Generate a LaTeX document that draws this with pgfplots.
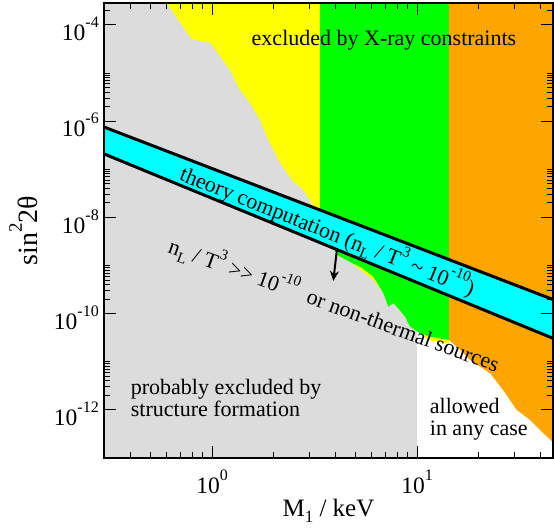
\documentclass[border=0pt]{standalone}
\usepackage{fontspec}
\setmainfont{Liberation Serif}
\usepackage{pgfplots}
\pgfplotsset{compat=1.18}
\usetikzlibrary{arrows.meta}
\definecolor{lgray}{RGB}{220,220,220}
\definecolor{xyellow}{RGB}{255,255,0}
\definecolor{xgreen}{RGB}{0,255,0}
\definecolor{xorange}{RGB}{255,165,0}
\definecolor{xcyan}{RGB}{0,255,255}
\newcommand{\sps}[1]{\raisebox{12.5bp}{\fontsize{15bp}{15bp}\selectfont #1}}
\newcommand{\tsps}[1]{\raisebox{13bp}{\fontsize{16bp}{16bp}\selectfont #1}}
\newcommand{\sbs}[1]{\raisebox{-5bp}{\fontsize{15bp}{15bp}\selectfont #1}}
\newcommand{\lsps}[1]{\raisebox{16bp}{\fontsize{19bp}{19bp}\selectfont #1}}
\newcommand{\lsbs}[1]{\raisebox{-6bp}{\fontsize{17bp}{17bp}\selectfont #1}}
\begin{document}
\fontsize{22bp}{24bp}\selectfont
\begin{tikzpicture}
\begin{axis}[
 name=ax, xmode=log, ymode=log, scale only axis, width=449bp, height=455bp,
 xmin=0.2972, xmax=46.06, ymin=1e-13, ymax=2.865e-4,
 axis on top,
 axis line style={line width=1.2bp},
 every tick/.style={black, line width=1bp},
 major tick length=12bp, minor tick length=6bp,
 xtick={1,10}, xticklabels={10\tsps{0},10\tsps{1}},
 minor xtick={0.4,0.5,0.6,0.7,0.8,0.9,2,3,4,5,6,7,8,9,20,30,40},
 ytick={1e-12,1e-10,1e-8,1e-6,1e-4},
 yticklabels={10\tsps{-12},10\tsps{-10},10\tsps{-8},10\tsps{-6},10\tsps{-4}},
 minor ytick={2e-12,3e-12,4e-12,5e-12,6e-12,7e-12,8e-12,9e-12,1e-11,
   2e-10,3e-10,4e-10,5e-10,6e-10,7e-10,8e-10,9e-10,1e-9,
   2e-8,3e-8,4e-8,5e-8,6e-8,7e-8,8e-8,9e-8,1e-7,
   2e-6,3e-6,4e-6,5e-6,6e-6,7e-6,8e-6,9e-6,1e-5,
   2e-4},
 xticklabel style={anchor=base, yshift=-35bp, inner sep=0pt, font=\fontsize{23.5bp}{24bp}\selectfont},
 yticklabel style={anchor=base east, xshift=-5bp, yshift=-15.7bp, inner sep=0pt, font=\fontsize{23.5bp}{24bp}\selectfont},
 xlabel={M\lsbs{1} / keV}, ylabel={sin\lsps{2}2θ},
 xlabel style={at={(axis description cs:0.5,-0.1275)}, anchor=base, inner sep=0pt, font=\fontsize{25bp}{26bp}\selectfont},
 ylabel style={at={(axis description cs:-0.147,0.5)}, anchor=base, inner sep=0pt, font=\fontsize{28bp}{30bp}\selectfont},
]
% structure formation (gray)
\addplot[fill=lgray, draw=none] coordinates {(0.2,1e-14) (10,1e-14) (10,1e-3) (0.2,1e-3)} -- cycle;
% X-ray constraints: yellow
\addplot[fill=xyellow, draw=none] coordinates {
(0.491,1e-3) (0.796,5.045e-5) (0.978,4.29e-5) (1.015,3.54e-5) (1.224,1.161e-5)
(1.369,4.46e-6) (1.532,2.394e-6) (1.715,1.062e-6) (1.882,4.08e-7) (2.147,1.357e-7)
(2.493,5.55e-8) (2.789,3.73e-8) (3.064,1.973e-8) (3.364,8.87e-9) (4.07,1.663e-9)
(4.713,1.19e-9) (5.392,7.73e-10) (6.121,5.03e-10) (6.85,2.66e-10) (7.244,1.401e-10)
(7.662,1.648e-10) (7.962,1.401e-10) (8.739,8.68e-11) (9.245,5.38e-11) (10.34,3.93e-11)
(11.57,2.78e-11) (13.85,2.47e-11) (14.32,2.47e-11) (14.32,1e-3)} -- cycle;
% green
\addplot[fill=xgreen, draw=none] coordinates {
(3.364,1e-3) (3.364,8.87e-9) (4.07,1.663e-9) (4.713,1.19e-9) (5.392,8.93e-10)
(6.121,5.89e-10) (6.85,2.66e-10) (7.244,1.401e-10) (7.662,1.648e-10) (7.962,1.401e-10)
(8.739,8.68e-11) (9.245,5.38e-11) (10.34,3.93e-11) (11.57,3.334e-11) (14.32,2.847e-11)
(14.32,1e-3)} -- cycle;
% orange
\addplot[fill=xorange, draw=none] coordinates {
(14.32,1e-3) (14.32,2.847e-11) (16.21,1.765e-11) (18.14,1.094e-11) (22.71,5.79e-12)
(26.28,2.603e-12) (30.64,1e-12) (35.58,6.2e-13) (41.31,3.28e-13) (46.6,2.03e-13)
(52.7,1.16e-13) (60,5e-14) (60,1e-3)} -- cycle;
% theory band
\addplot[fill=xcyan, draw=none] coordinates {(0.251,1.0e-6) (56.2,1.42e-10) (56.2,2.17e-11) (0.251,2.81e-7)} -- cycle;
\addplot[black, line width=3bp] coordinates {(0.251,1.0e-6) (56.2,1.42e-10)};
\addplot[black, line width=3bp] coordinates {(0.251,2.81e-7) (56.2,2.17e-11)};
% texts
\node[anchor=base, inner sep=0pt] at (axis cs:6.90,3.84e-5) {excluded by X-ray constraints};
\node[anchor=base west, inner sep=0pt] at (axis cs:0.401,2.05e-12) {probably excluded by};
\node[anchor=base west, inner sep=0pt] at (axis cs:0.401,7.26e-13) {structure formation};
\node[anchor=base west, inner sep=0pt] at (axis cs:11.53,8.26e-13) {allowed};
\node[anchor=base west, inner sep=0pt] at (axis cs:11.53,2.95e-13) {in any case};
\node[rotate=-21.7, inner sep=0pt] at (axis cs:3.681,5.50e-9) {theory computation (n\sbs{L} / T\sps{3} \textasciitilde{} 10\sps{-10})};
\node[rotate=-20, anchor=base, inner sep=0pt] at (axis cs:3.832,1.062e-10) {n\sbs{L} / T\sps{3} >{}> 10\sps{-10}\ \ or non-thermal sources};
\draw[line width=2bp, -{Stealth[length=10bp,width=9bp]}] (axis cs:4.058,2.0e-9) -- (axis cs:3.906,4.79e-10);
\end{axis}
\pgfresetboundingbox
\path ([xshift=-104bp,yshift=-73bp]ax.south west) rectangle ([xshift=1bp,yshift=3bp]ax.north east);
\end{tikzpicture}
\end{document}
